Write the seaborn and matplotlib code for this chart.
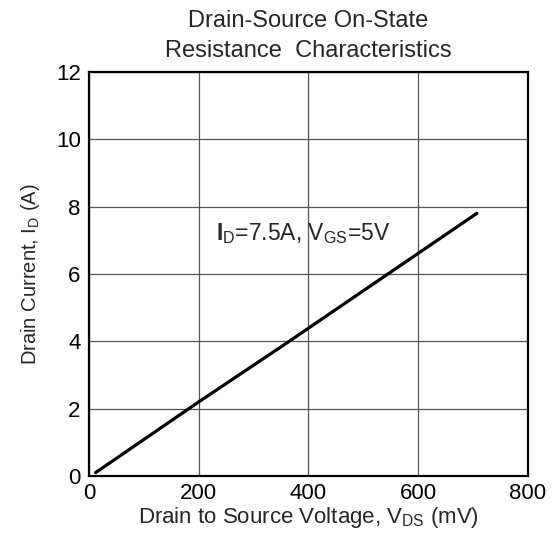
import matplotlib
matplotlib.use("Agg")
import matplotlib.pyplot as plt
import pandas as pd
import seaborn as sns

# values
vds_mv = [12, 200, 365, 707]
id_a = [0.1, 2.2, 4.0, 7.8]
x_ticks = [0, 200, 400, 600, 800]
y_ticks = [0, 2, 4, 6, 8, 10, 12]

title = "Drain-Source On-State\nResistance  Characteristics"
x_label = r"Drain to Source Voltage, V$_\mathregular{DS}$ (mV)"
y_label = r"Drain Current, I$_\mathregular{D}$ (A)"
note = r"$\mathbf{I}_\mathregular{D}$=7.5A, V$_\mathregular{GS}$=5V"

sns.set_style("white")
plt.rcParams["font.family"] = ["Liberation Sans", "DejaVu Sans"]
plt.rcParams["mathtext.fontset"] = "custom"
plt.rcParams["mathtext.rm"] = "Liberation Sans"
plt.rcParams["mathtext.bf"] = "Liberation Sans:bold"

df = pd.DataFrame({"vds": vds_mv, "id": id_a})

fig = plt.figure(figsize=(5.58, 5.42), dpi=100)
ax = fig.add_axes([0.1595, 0.1218, 0.7865, 0.7455])

sns.lineplot(data=df, x="vds", y="id", color="black", linewidth=2.3, ax=ax)

ax.set_xlim(0, 800)
ax.set_ylim(0, 12)
ax.set_xticks(x_ticks)
ax.set_yticks(y_ticks)
ax.grid(True, color="#555555", linewidth=0.9)
ax.set_axisbelow(True)
for s in ax.spines.values():
    s.set_color("black")
    s.set_linewidth(1.6)
ax.tick_params(axis="both", length=0, labelsize=16, colors="black")
ax.tick_params(axis="y", pad=6)
ax.tick_params(axis="x", pad=5)

ax.set_xlabel(x_label, fontsize=16, labelpad=1)
ax.set_ylabel(y_label, fontsize=14.5, labelpad=10)
ax.set_title(title, fontsize=17, linespacing=1.45, pad=11)

ax.text(232, 7.2, note, fontsize=16.5, ha="left", va="center")

fig.savefig("out.png", dpi=100)
